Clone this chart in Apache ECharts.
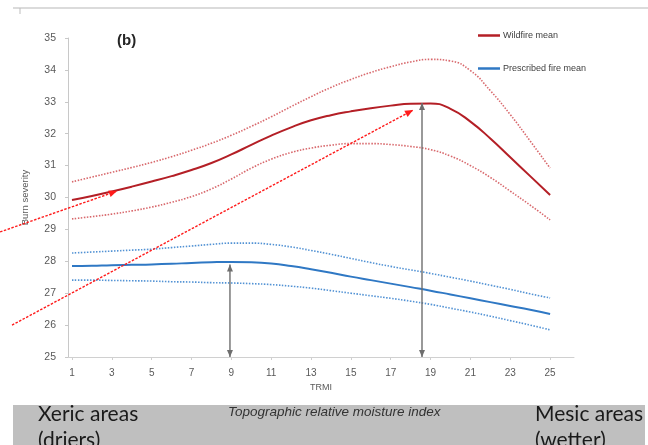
<!DOCTYPE html>
<html>
<head>
<meta charset="utf-8">
<script src="https://cdn.jsdelivr.net/npm/echarts@6/dist/echarts.min.js"></script>
<style>
  html, body { margin: 0; padding: 0; background: #fff; }
  #chart { width: 648px; height: 445px; }
</style>
</head>
<body>
<div id="chart"></div>
<script>
// TRMI values 1..25
const trmi = [1, 2, 3, 4, 5, 6, 7, 8, 9, 10, 11, 12, 13, 14, 15, 16, 17, 18, 19, 20, 21, 22, 23, 24, 25];
const xTickValues = [1, 3, 5, 7, 9, 11, 13, 15, 17, 19, 21, 23, 25];

const wildfireMean  = [29.92, 30.05, 30.19, 30.34, 30.5, 30.67, 30.86, 31.08, 31.35, 31.65, 31.94, 32.2, 32.42, 32.58, 32.7, 32.8, 32.88, 32.94, 32.95, 32.78, 32.38, 31.85, 31.26, 30.67, 30.08];
const wildfireUpper = [30.49, 30.64, 30.79, 30.94, 31.1, 31.28, 31.48, 31.7, 31.95, 32.23, 32.53, 32.85, 33.16, 33.45, 33.7, 33.92, 34.1, 34.25, 34.33, 34.28, 33.98, 33.35, 32.6, 31.77, 30.92];
const wildfireLower = [29.33, 29.4, 29.48, 29.58, 29.7, 29.85, 30.03, 30.27, 30.58, 30.92, 31.2, 31.41, 31.55, 31.64, 31.69, 31.69, 31.66, 31.6, 31.5, 31.3, 31.0, 30.63, 30.2, 29.76, 29.3];

const prescribedMean  = [27.85, 27.86, 27.88, 27.89, 27.9, 27.92, 27.95, 27.97, 27.98, 27.97, 27.93, 27.85, 27.75, 27.64, 27.52, 27.41, 27.3, 27.19, 27.08, 26.96, 26.84, 26.72, 26.6, 26.48, 26.35];
const prescribedUpper = [28.26, 28.29, 28.32, 28.35, 28.38, 28.43, 28.48, 28.53, 28.57, 28.57, 28.53, 28.45, 28.34, 28.22, 28.09, 27.96, 27.84, 27.73, 27.62, 27.5, 27.38, 27.25, 27.12, 26.98, 26.85];
const prescribedLower = [27.41, 27.41, 27.4, 27.39, 27.38, 27.36, 27.35, 27.33, 27.32, 27.3, 27.27, 27.22, 27.16, 27.08, 27.0, 26.92, 26.84, 26.75, 26.65, 26.53, 26.41, 26.28, 26.14, 26.0, 25.85];

// annotation arrows, [TRMI, burn severity] from -> to
const redArrows = [
  [[-2.61, 28.92], [3.26, 30.2]],
  [[-2.01, 26.0], [18.12, 32.74]]
];
const grayArrows = [
  [[8.93, 27.9], [8.93, 25.0]],
  [[18.57, 32.96], [18.57, 25.0]]
];

const RED = '#b41f26';
const RED_CI = '#d4585c';
const BLUE = '#2f78c4';
const BLUE_CI = '#3f86cf';
const TXT = '#595959';

const pairs = ys => trmi.map((x, i) => [x, ys[i]]);

const chart = echarts.init(document.getElementById('chart'));

function line(name, ys, color, width, dotted) {
  return {
    name: name,
    type: 'line',
    data: pairs(ys),
    smooth: 0.5,
    showSymbol: false,
    symbol: 'none',
    silent: true,
    lineStyle: { color: color, width: width, type: dotted ? [1.5, 1.5] : 'solid', opacity: dotted ? 0.9 : 1 },
    itemStyle: { color: color },
    z: dotted ? 2 : 3
  };
}

chart.setOption({
  animation: false,
  backgroundColor: '#fff',
  grid: { left: 68, right: 74, top: 38, bottom: 88 },
  xAxis: {
    type: 'value',
    min: 0.8,
    max: 26.2,
    name: 'TRMI',
    nameLocation: 'middle',
    nameGap: 22,
    nameTextStyle: { fontSize: 9, color: TXT, fontFamily: 'Liberation Sans' },
    axisLine: { lineStyle: { color: '#d0d0d0' } },
    axisTick: { show: true, customValues: xTickValues, length: 3, lineStyle: { color: '#d0d0d0' } },
    axisLabel: { customValues: xTickValues, fontSize: 10, color: TXT, margin: 11, fontFamily: 'Liberation Sans' },
    splitLine: { show: false }
  },
  yAxis: {
    type: 'value',
    min: 25,
    max: 35,
    interval: 1,
    name: 'Burn severity',
    nameLocation: 'middle',
    nameGap: 38,
    nameTextStyle: { fontSize: 9.5, color: TXT, fontFamily: 'Liberation Sans' },
    axisLine: { show: true, lineStyle: { color: '#c8c8c8' } },
    axisTick: { show: true, length: 3, lineStyle: { color: '#c8c8c8' } },
    axisLabel: { fontSize: 10.5, color: TXT, margin: 12, fontFamily: 'Liberation Sans' },
    splitLine: { show: false }
  },
  legend: {
    data: ['Wildfire mean', 'Prescribed fire mean'],
    orient: 'vertical',
    left: 478,
    top: 31,
    itemWidth: 22,
    itemHeight: 2.5,
    itemGap: 24,
    icon: 'rect',
    padding: 0,
    textStyle: { fontSize: 9, color: '#404040', fontFamily: 'Liberation Sans', padding: [0, 0, 0, -2] }
  },
  series: [
    line('Wildfire upper', wildfireUpper, RED_CI, 1.6, true),
    line('Wildfire lower', wildfireLower, RED_CI, 1.6, true),
    line('Prescribed upper', prescribedUpper, BLUE_CI, 1.6, true),
    line('Prescribed lower', prescribedLower, BLUE_CI, 1.6, true),
    line('Wildfire mean', wildfireMean, RED, 2, false),
    line('Prescribed fire mean', prescribedMean, BLUE, 2, false)
  ]
});

function head(tip, dir, len, w, color) {
  const nx = -dir[1], ny = dir[0];
  const bx = tip[0] - dir[0] * len, by = tip[1] - dir[1] * len;
  return {
    type: 'polygon', z: 20, silent: true,
    shape: { points: [tip, [bx + nx * w / 2, by + ny * w / 2], [bx - nx * w / 2, by - ny * w / 2]] },
    style: { fill: color }
  };
}

function arrow(from, to, color, width, dash, both, len, w) {
  const p0 = chart.convertToPixel({ gridIndex: 0 }, from);
  const p1 = chart.convertToPixel({ gridIndex: 0 }, to);
  const dx = p1[0] - p0[0], dy = p1[1] - p0[1];
  const d = Math.hypot(dx, dy);
  const u = [dx / d, dy / d];
  const els = [{
    type: 'line', z: 19, silent: true,
    shape: { x1: p0[0], y1: p0[1], x2: p1[0], y2: p1[1] },
    style: { stroke: color, lineWidth: width, lineDash: dash }
  }];
  els.push(head(p1, u, len, w, color));
  if (both) els.push(head(p0, [-u[0], -u[1]], len, w, color));
  return els;
}

const graphics = [
  // frame line at the top
  { type: 'line', silent: true, shape: { x1: 13, y1: 8, x2: 648, y2: 8 }, style: { stroke: '#cfcfcf', lineWidth: 1.5 } },
  { type: 'line', silent: true, shape: { x1: 20, y1: 8, x2: 20, y2: 14 }, style: { stroke: '#bdbdbd', lineWidth: 1 } },
  { type: 'text', left: 117, top: 33, style: { text: '(b)', font: 'bold 15px "Liberation Sans"', fill: '#262626' } },
  // bottom band
  { type: 'rect', silent: true, shape: { x: 13, y: 405, width: 632, height: 40 }, style: { fill: '#bfbfbf' } },
  { type: 'text', left: 38, top: 401, style: { text: 'Xeric areas\n(driers)', font: '21px Lato', lineHeight: 26, fill: '#1a1a1a' } },
  { type: 'text', left: 535, top: 401, style: { text: 'Mesic areas\n(wetter)', font: '21px Lato', lineHeight: 26, fill: '#1a1a1a' } },
  { type: 'text', left: 228, top: 405, style: { text: 'Topographic relative moisture index', font: 'italic 13.5px "Liberation Sans"', fill: '#333' } }
];

redArrows.forEach(a => graphics.push(...arrow(a[0], a[1], '#ff1a1a', 1.4, [2.5, 1.5], false, 8, 7)));
grayArrows.forEach(a => graphics.push(...arrow(a[0], a[1], '#6e6e6e', 1.4, null, true, 7, 6)));

chart.setOption({ graphic: graphics });
</script>
</body>
</html>
